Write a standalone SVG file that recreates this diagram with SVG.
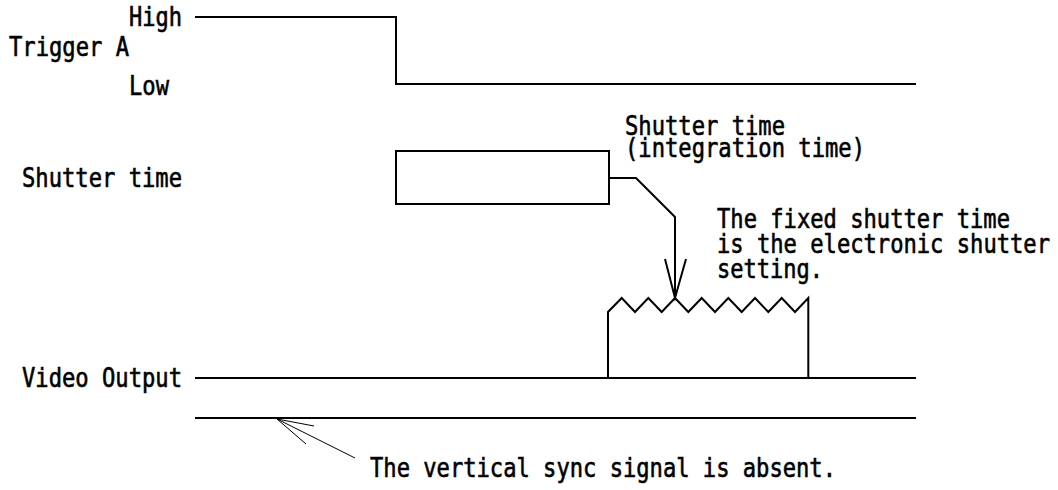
<svg xmlns="http://www.w3.org/2000/svg" width="1058" height="490" viewBox="0 0 1058 490">
<style>
text{font-family:"DejaVu Sans Mono","Liberation Mono",monospace;font-size:26px;fill:#000;stroke:#000;stroke-width:0.6}
.w{fill:none;stroke:#000;stroke-width:2;stroke-linejoin:miter}
.t{fill:none;stroke:#000;stroke-width:1}
</style>
<rect width="1058" height="490" fill="#fff"/>
<g id="labels">
<text x="129" y="26" textLength="53" lengthAdjust="spacingAndGlyphs">High</text>
<text x="9" y="56" textLength="120" lengthAdjust="spacingAndGlyphs">Trigger A</text>
<text x="129" y="95" textLength="40" lengthAdjust="spacingAndGlyphs">Low</text>
<text x="22" y="187" textLength="160" lengthAdjust="spacingAndGlyphs">Shutter time</text>
<text x="22" y="387" textLength="160" lengthAdjust="spacingAndGlyphs">Video Output</text>
</g>
<g id="trigger-a">
<polyline class="w" points="195,17 396,17 396,84 916,84"/>
</g>
<g id="shutter">
<rect class="w" x="396" y="151" width="213" height="53"/>
</g>
<g id="video-output">
<line class="w" x1="195" y1="378" x2="916" y2="378"/>
<polyline class="w" points="608,378 608,312 621.7,298 635,312 648.3,298 661.7,312 675,298 688.3,312 701.7,298 715,312 728.3,298 741.7,312 755,298 768.3,312 781.7,298 795,312 808.3,298 808.3,378"/>
</g>
<g id="vsync">
<line class="w" x1="195" y1="418" x2="916" y2="418"/>
</g>
<g id="connectors">
<polyline class="w" points="609,178 636,178 675,217 675,298"/>
<polyline class="w" points="665,259 675,298 686,259"/>
<line class="t" x1="277" y1="419" x2="355" y2="458"/>
<polyline class="t" points="314,426 277,419 306,444"/>
</g>
<g id="notes">
<text x="625" y="135" textLength="160" lengthAdjust="spacingAndGlyphs">Shutter time</text>
<text x="625" y="157" textLength="240" lengthAdjust="spacingAndGlyphs">(integration time)</text>
<text x="717" y="228" textLength="293" lengthAdjust="spacingAndGlyphs">The fixed shutter time</text>
<text x="717" y="253" textLength="333" lengthAdjust="spacingAndGlyphs">is the electronic shutter</text>
<text x="717" y="278" textLength="106" lengthAdjust="spacingAndGlyphs">setting.</text>
<text x="370" y="477" textLength="466" lengthAdjust="spacingAndGlyphs">The vertical sync signal is absent.</text>
</g>
</svg>
